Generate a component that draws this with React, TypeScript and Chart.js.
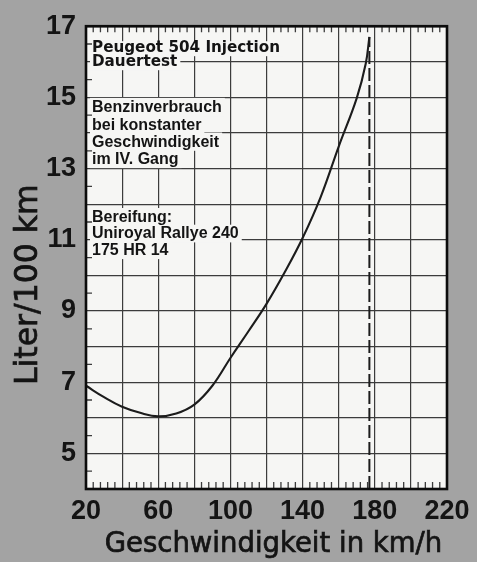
import React, { useEffect, useRef } from 'react';
import { Chart, registerables } from 'chart.js';

Chart.register(...registerables);

// ---- data ----
const speeds = [20, 30, 40, 50, 60, 70, 80, 90, 100, 110, 120, 130, 140, 150, 160, 170, 175, 177];
const consumption = [6.9, 6.58, 6.31, 6.14, 6.04, 6.12, 6.37, 6.9, 7.68, 8.43, 9.2, 10.08, 11.05, 12.2, 13.62, 14.98, 15.95, 16.7];
const topSpeed = 177;
const topSpeedRange = [4, 16.7];
const xTickLabels = [20, 60, 100, 140, 180, 220];
const yTickLabels = [5, 7, 9, 11, 13, 15, 17];
const xTitle = 'Geschwindigkeit in km/h';
const yTitle = 'Liter/100 km';
const noteCar = ['Peugeot 504 Injection', 'Dauertest'];
const noteMode = ['Benzinverbrauch', 'bei konstanter', 'Geschwindigkeit', 'im IV. Gang'];
const noteTyres = ['Bereifung:', 'Uniroyal Rallye 240', '175 HR 14'];

const INK = '#141414';
const GRID = '#3c3c3c';
const PAPER = '#f6f6f4';
const BG = '#a3a3a3';

function drawNote(ctx: CanvasRenderingContext2D, lines: string[], x: number, firstBase: number, step: number, font: string) {
  ctx.save();
  ctx.font = font;
  ctx.textAlign = 'left';
  ctx.textBaseline = 'alphabetic';
  lines.forEach((line, i) => {
    const base = firstBase + i * step;
    const w = ctx.measureText(line).width;
    ctx.fillStyle = PAPER;
    ctx.fillRect(x - 2, base - step + 3, w + 5, step + 1);
  });
  ctx.fillStyle = INK;
  lines.forEach((line, i) => {
    ctx.fillText(line, x, firstBase + i * step);
  });
  ctx.restore();
}

const decor = {
  id: 'decor',
  beforeDraw(chart: any) {
    const { ctx, chartArea: a } = chart;
    ctx.save();
    ctx.fillStyle = PAPER;
    ctx.fillRect(a.left, a.top, a.right - a.left, a.bottom - a.top);
    ctx.restore();
  },
  beforeDatasetsDraw(chart: any) {
    const { ctx, chartArea: a, scales } = chart;
    const xs = scales.x;
    const ys = scales.y;
    drawNote(ctx, noteCar, a.left + 6, a.top + 26, 14, 'bold 15.2px "DejaVu Sans"');
    drawNote(ctx, noteMode, a.left + 6, a.top + 86, 17.3, 'bold 16px "Liberation Sans"');
    drawNote(ctx, noteTyres, a.left + 6, a.top + 195.5, 16.7, 'bold 16px "Liberation Sans"');

    // minor ticks along the frame
    ctx.save();
    ctx.strokeStyle = GRID;
    ctx.lineWidth = 1.3;
    ctx.beginPath();
    for (let v = xs.min; v <= xs.max; v += 4) {
      if (v % 20 === 0) continue;
      const px = xs.getPixelForValue(v);
      ctx.moveTo(px, a.top);
      ctx.lineTo(px, a.top + 6);
      ctx.moveTo(px, a.bottom);
      ctx.lineTo(px, a.bottom - 7);
    }
    for (let v = ys.min + 0.5; v < ys.max; v += 1) {
      const py = ys.getPixelForValue(v);
      ctx.moveTo(a.left, py);
      ctx.lineTo(a.left + 6, py);
    }
    ctx.stroke();
    ctx.restore();
  },
  afterDraw(chart: any) {
    const { ctx, chartArea: a } = chart;
    ctx.save();
    ctx.strokeStyle = '#0c0c0c';
    ctx.lineWidth = 2.6;
    ctx.strokeRect(a.left, a.top, a.right - a.left, a.bottom - a.top);

    ctx.fillStyle = INK;
    ctx.strokeStyle = INK;
    ctx.lineWidth = 0.7;
    ctx.font = '27.5px "DejaVu Sans"';
    ctx.textAlign = 'center';
    ctx.textBaseline = 'alphabetic';
    const cx = (a.left + a.right) / 2 + 7;
    ctx.fillText(xTitle, cx, 552);
    ctx.strokeText(xTitle, cx, 552);

    ctx.translate(37, (a.top + a.bottom) / 2 + 27);
    ctx.rotate(-Math.PI / 2);
    ctx.font = '31.5px "DejaVu Sans"';
    ctx.fillText(yTitle, 0, 0);
    ctx.strokeText(yTitle, 0, 0);
    ctx.restore();
  },
};

export default function App() {
  const ref = useRef<HTMLCanvasElement | null>(null);

  useEffect(() => {
    if (!ref.current) return;
    const tickFont = { family: '"Liberation Sans", Arial, sans-serif', size: 27, weight: 'bold' as const };
    const chart = new Chart(ref.current, {
      type: 'line',
      data: {
        datasets: [
          {
            label: 'Verbrauch',
            data: speeds.map((s, i) => ({ x: s, y: consumption[i] })),
            borderColor: '#1c1c1c',
            borderWidth: 2.1,
            pointRadius: 0,
            tension: 0.4,
            fill: false,
          },
          {
            label: 'Höchstgeschwindigkeit',
            data: topSpeedRange.map((y) => ({ x: topSpeed, y })),
            borderColor: '#1c1c1c',
            borderWidth: 2,
            borderDash: [13, 4],
            pointRadius: 0,
            fill: false,
          },
        ],
      },
      options: {
        animation: false,
        responsive: true,
        maintainAspectRatio: false,
        layout: { padding: { top: 19, right: 30, left: 0, bottom: 0 } },
        plugins: {
          legend: { display: false },
          tooltip: { enabled: false },
        },
        scales: {
          x: {
            type: 'linear',
            min: 20,
            max: 220,
            afterFit: (s: any) => {
              s.height = 73;
            },
            ticks: {
              stepSize: 20,
              autoSkip: false,
              maxRotation: 0,
              padding: 6,
              color: INK,
              font: tickFont,
              callback: (v: any) => (xTickLabels.includes(Number(v)) ? String(v) : ''),
            },
            grid: { color: GRID, lineWidth: 1.2, drawTicks: false },
            border: { display: false },
          },
          y: {
            type: 'linear',
            min: 4,
            max: 17,
            afterFit: (s: any) => {
              s.width = 86;
            },
            ticks: {
              stepSize: 1,
              autoSkip: false,
              padding: 10,
              color: INK,
              font: tickFont,
              callback: (v: any) => (yTickLabels.includes(Number(v)) ? String(v) : ''),
            },
            grid: { color: GRID, lineWidth: 1.2, drawTicks: false },
            border: { display: false },
          },
        },
      },
      plugins: [decor],
    });
    return () => chart.destroy();
  }, []);

  return (
    <div style={{ position: 'fixed', left: 0, top: 0, width: 477, height: 562, background: BG }}>
      <canvas ref={ref} />
    </div>
  );
}
